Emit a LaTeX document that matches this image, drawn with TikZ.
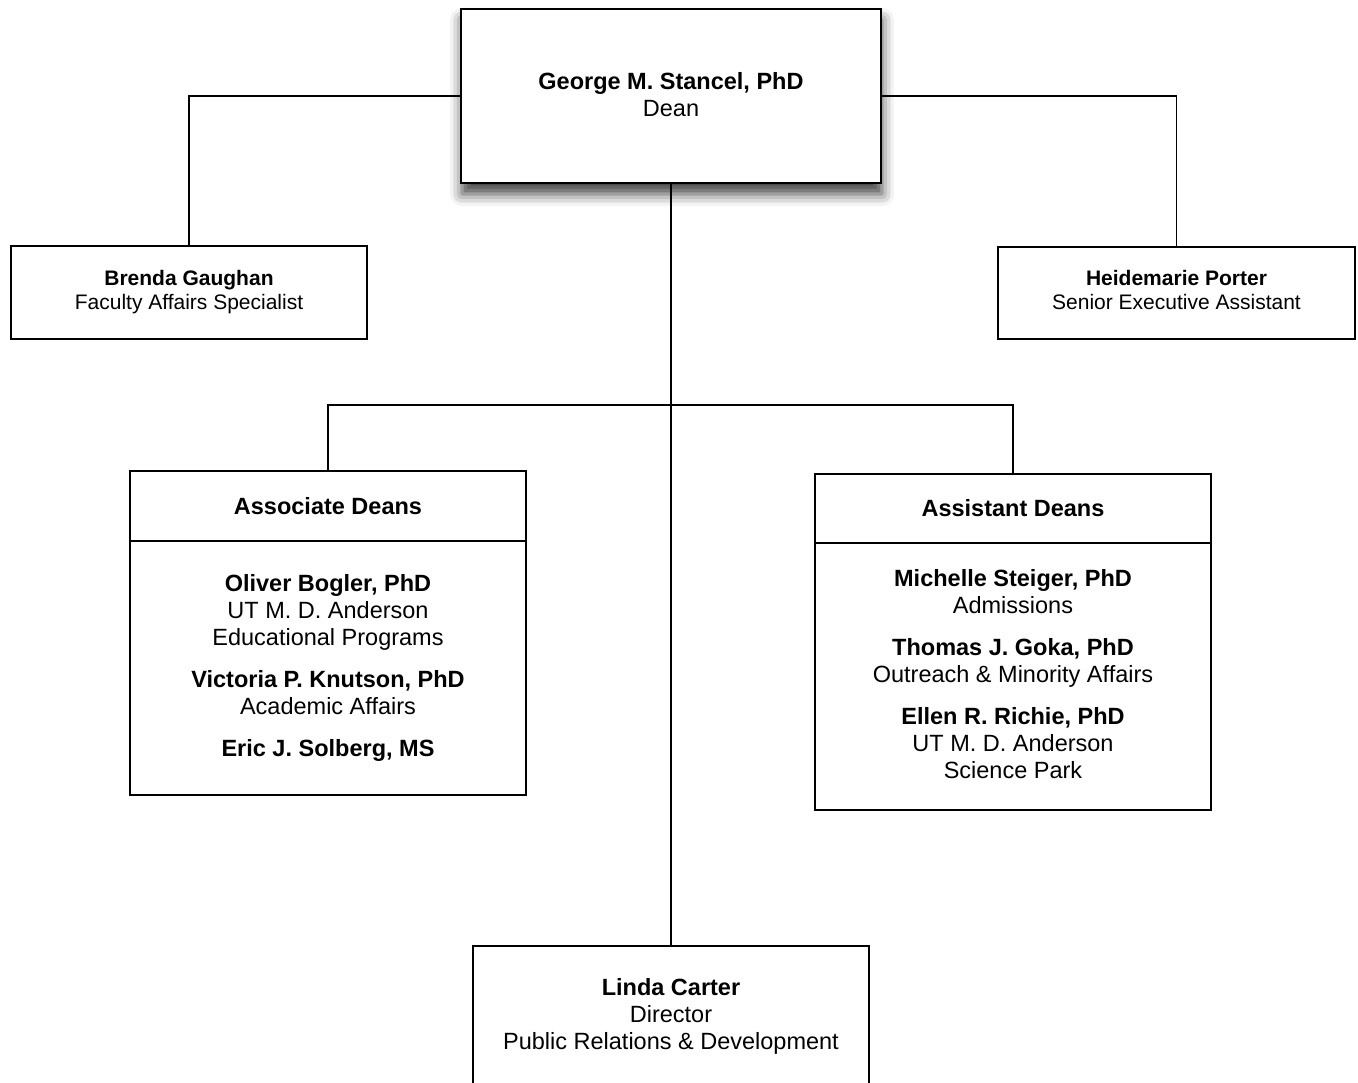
\documentclass[tikz,border=0pt]{standalone}
\usepackage{fontspec}
\setmainfont{Liberation Sans}
\usetikzlibrary{shadows.blur}
\tikzset{
  box/.style={draw, line width=1.8pt, fill=white, inner sep=0pt},
  txt/.style={align=center, inner sep=0pt},
  big/.style={font=\fontsize{23.5}{27}\selectfont},
  small/.style={font=\fontsize{21}{24}\selectfont},
  link/.style={line width=1.8pt},
}
\begin{document}
\begin{tikzpicture}[x=1pt,y=-1pt]
\useasboundingbox (0,0) rectangle (1358,1083);
% boxes
\node[box, minimum width=420pt, minimum height=174pt,
  blur shadow={shadow xshift=1pt, shadow yshift=-11pt, shadow blur radius=12pt, shadow opacity=75}]
  (dean) at (671,96) {};
\node[box, minimum width=356pt, minimum height=93pt] (brenda) at (189,292.5) {};
\node[box, minimum width=357pt, minimum height=92pt] (heid) at (1176.5,293) {};
\node[box, minimum width=396pt, minimum height=70pt] (assochead) at (328,506) {};
\node[box, minimum width=396pt, minimum height=254pt] (assocbody) at (328,668) {};
\node[box, minimum width=396pt, minimum height=69pt] (assisthead) at (1013,508.5) {};
\node[box, minimum width=396pt, minimum height=267pt] (assistbody) at (1013,676.5) {};
\node[box, minimum width=396pt, minimum height=144pt] (linda) at (671,1018) {};
% texts
\node[txt, big] (deant) at (671,95) {\textbf{George M. Stancel, PhD}\\Dean};
\node[txt, small] (brendat) at (189,292.5) {\textbf{Brenda Gaughan}\\Faculty Affairs Specialist};
\node[txt, small] (heidt) at (1176.5,290) {\textbf{Heidemarie Porter}\\Senior Executive Assistant};
\node[txt, big] (assocheadt) at (328,506) {\textbf{Associate Deans}};
\node[txt, big] (assocbodyt) at (328,668)
  {\textbf{Oliver Bogler, PhD}\\UT M. D. Anderson\\Educational Programs\\[15pt]
   \textbf{Victoria P. Knutson, PhD}\\Academic Affairs\\[15pt]
   \textbf{Eric J. Solberg, MS}};
\node[txt, big] (assistheadt) at (1013,508.5) {\textbf{Assistant Deans}};
\node[txt, big] (assistbodyt) at (1013,674.5)
  {\textbf{Michelle Steiger, PhD}\\Admissions\\[15pt]
   \textbf{Thomas J. Goka, PhD}\\Outreach \& Minority Affairs\\[15pt]
   \textbf{Ellen R. Richie, PhD}\\UT M. D. Anderson\\Science Park};
\node[txt, big] (lindat) at (671,1016)
  {\textbf{Linda Carter}\\Director\\Public Relations \& Development};
% connectors
\coordinate (j) at (671,405);
\draw[link] (dean.west) -| (brenda.north);
\draw[link] (dean.east) -| (heid.north);
\draw[link] (dean.south) -- (linda.north);
\draw[link] (j) -| (assochead.north);
\draw[link] (j) -| (assisthead.north);
\end{tikzpicture}
\end{document}
